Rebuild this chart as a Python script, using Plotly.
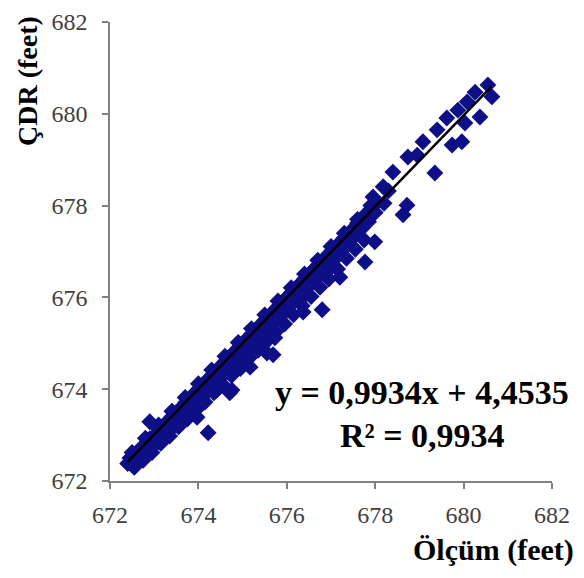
import plotly.graph_objects as go

# Dense band along the diagonal (Ölçüm, ÇDR)
band_x = [672.40, 672.45, 672.50, 672.55, 672.60, 672.65, 672.70, 672.75, 672.80, 672.85,
          672.90, 672.95, 673.00, 673.05, 673.10, 673.15, 673.20, 673.25, 673.30, 673.35,
          673.40, 673.45, 673.50, 673.55, 673.60, 673.65, 673.70, 673.75, 673.80, 673.85,
          673.90, 673.95, 674.00, 674.05, 674.10, 674.15, 674.20, 674.25, 674.30, 674.35,
          674.40, 674.45, 674.50, 674.55, 674.60, 674.65, 674.70, 674.75, 674.80, 674.85,
          674.90, 674.95, 675.00, 675.05, 675.10, 675.15, 675.20, 675.25, 675.30, 675.35,
          675.40, 675.45, 675.50, 675.55, 675.60, 675.65, 675.70, 675.75, 675.80, 675.85,
          675.90, 675.95, 676.00, 676.05, 676.10, 676.15, 676.20, 676.25, 676.30, 676.35,
          676.40, 676.45, 676.50, 676.55, 676.60, 676.65, 676.70, 676.75, 676.80, 676.85,
          676.90, 676.95, 677.00, 677.10, 677.15, 677.25, 677.30, 677.40, 677.45, 677.55,
          677.60, 677.70, 677.75, 677.85, 677.90, 678.00, 678.05, 678.20, 678.30]
band_y = [672.38, 672.50, 672.35, 672.58, 672.45, 672.52, 672.72, 672.55, 672.78, 672.62,
          672.92, 672.75, 672.98, 672.82, 673.12, 672.95, 673.18, 673.02, 673.30, 673.10,
          673.40, 673.22, 673.50, 673.30, 673.58, 673.38, 673.70, 673.48, 673.78, 673.60,
          673.90, 673.70, 674.00, 673.82, 674.10, 673.90, 674.20, 674.00, 674.30, 674.12,
          674.40, 674.20, 674.50, 674.30, 674.60, 674.40, 674.70, 674.50, 674.80, 674.60,
          674.90, 674.68, 675.00, 674.80, 675.10, 674.90, 675.20, 675.00, 675.30, 675.08,
          675.40, 675.20, 675.50, 675.30, 675.60, 675.40, 675.70, 675.50, 675.80, 675.58,
          675.90, 675.70, 676.00, 675.80, 676.10, 675.90, 676.20, 676.00, 676.30, 676.10,
          676.40, 676.20, 676.50, 676.30, 676.60, 676.40, 676.70, 676.50, 676.80, 676.62,
          676.90, 676.72, 677.00, 676.85, 677.15, 677.02, 677.30, 677.20, 677.45, 677.35,
          677.62, 677.50, 677.78, 677.65, 677.92, 677.85, 678.08, 678.05, 678.32]

# Upper edge of the band (slightly above the trend line)
upper_x = [672.50, 672.80, 673.10, 673.40, 673.70, 674.00, 674.30, 674.60, 674.90, 675.20,
           675.50, 675.80, 676.10, 676.40, 676.70, 677.00, 677.30, 677.60, 677.90]
upper_y = [672.62, 672.93, 673.22, 673.52, 673.82, 674.12, 674.42, 674.72, 675.02, 675.32,
           675.62, 675.92, 676.21, 676.51, 676.81, 677.11, 677.40, 677.70, 678.00]

# Lower edge of the band (below the trend line)
lower_x = [672.55, 672.75, 672.95, 673.15, 673.35, 673.55, 673.75, 673.95, 674.15, 674.35,
           674.55, 674.75, 674.95, 675.15, 675.35, 675.55, 675.75, 675.95, 676.15, 676.35,
           676.55, 676.75, 676.95, 677.15, 677.35, 677.55, 677.75]
lower_y = [672.30, 672.45, 672.62, 672.82, 672.98, 673.18, 673.35, 673.55, 673.72, 673.92,
           674.10, 674.30, 674.45, 674.68, 674.85, 675.05, 675.25, 675.42, 675.62, 675.82,
           676.02, 676.22, 676.40, 676.62, 676.85, 677.05, 677.25]

# Scattered points (upper part and outliers)
outer_x = [680.55, 680.64, 680.26, 679.87, 680.08, 680.37, 680.03, 679.62, 679.40, 679.08,
           679.74, 679.96, 678.74, 678.95, 678.40, 679.35, 678.18, 678.72, 678.63, 677.95,
           677.99, 677.77, 677.20, 677.02, 676.80, 676.37, 676.37, 676.12, 675.73, 675.46,
           675.69, 675.55, 675.73, 675.33, 675.10, 674.76, 674.71, 674.22, 672.90, 673.97,
           673.92, 674.10, 674.42, 675.17]
outer_y = [680.63, 680.37, 680.47, 680.08, 680.26, 679.93, 679.80, 679.91, 679.65, 679.39,
           679.32, 679.39, 679.06, 679.10, 678.73, 678.71, 678.41, 678.01, 677.80, 678.19,
           677.21, 676.77, 676.44, 676.66, 675.73, 675.68, 676.01, 675.88, 675.25, 674.96,
           674.75, 674.79, 675.12, 674.92, 674.64, 673.98, 673.92, 673.05, 673.29, 673.39,
           673.61, 673.70, 673.98, 674.48]

slope = 0.9934
intercept = 4.4535
slope_text = "0,9934"
intercept_text = "4,4535"
r2_text = "0,9934"

x_ticks = [672, 674, 676, 678, 680, 682]
y_ticks = [672, 674, 676, 678, 680, 682]

all_x = band_x + upper_x + lower_x + outer_x
all_y = band_y + upper_y + lower_y + outer_y
line_x = [min(all_x), max(all_x)]
line_y = [slope * v + intercept for v in line_x]

NAVY = "#0e0e86"
SERIF = "Liberation Serif, Times New Roman, serif"

fig = go.Figure()
fig.add_trace(go.Scatter(x=all_x, y=all_y, mode="markers",
                         marker=dict(symbol="diamond", size=13, color=NAVY),
                         showlegend=False, hoverinfo="skip"))
fig.add_trace(go.Scatter(x=line_x, y=line_y, mode="lines",
                         line=dict(color="black", width=2.5),
                         showlegend=False, hoverinfo="skip"))

axis_common = dict(showgrid=False, zeroline=False, showline=True, automargin=False,
                   linecolor="#808080", linewidth=1.5, ticks="outside",
                   ticklen=6, tickwidth=1.5, tickcolor="#808080",
                   tickfont=dict(family=SERIF, size=24, color="#404040"))

fig.update_xaxes(range=[672, 682], tickvals=x_ticks, ticklabelstandoff=5, **axis_common)
fig.update_yaxes(range=[672, 682], tickvals=y_ticks, ticklabelstandoff=10, **axis_common)

fig.update_layout(
    width=568, height=562,
    margin=dict(l=102, r=24, t=14, b=89),
    paper_bgcolor="white", plot_bgcolor="white",
    annotations=[
        dict(text="<b>ÇDR (feet)</b>", xref="paper", yref="paper", x=-0.185, y=0.872,
             textangle=-90, showarrow=False, xanchor="center", yanchor="middle",
             font=dict(family=SERIF, size=28, color="black")),
        dict(text="<b>Ölçüm (feet)</b>", xref="paper", yref="paper", x=1.054, y=-0.150,
             showarrow=False, xanchor="right", yanchor="middle",
             font=dict(family=SERIF, size=30, color="black")),
        dict(text="<b>y = %sx + %s</b>" % (slope_text, intercept_text),
             xref="paper", yref="paper", x=0.706, y=0.192,
             showarrow=False, xanchor="center", yanchor="middle",
             font=dict(family=SERIF, size=34, color="black")),
        dict(text="<b>R² = %s</b>" % r2_text, xref="paper", yref="paper", x=0.706, y=0.100,
             showarrow=False, xanchor="center", yanchor="middle",
             font=dict(family=SERIF, size=34, color="black")),
    ],
)

fig.write_html("out.html")
